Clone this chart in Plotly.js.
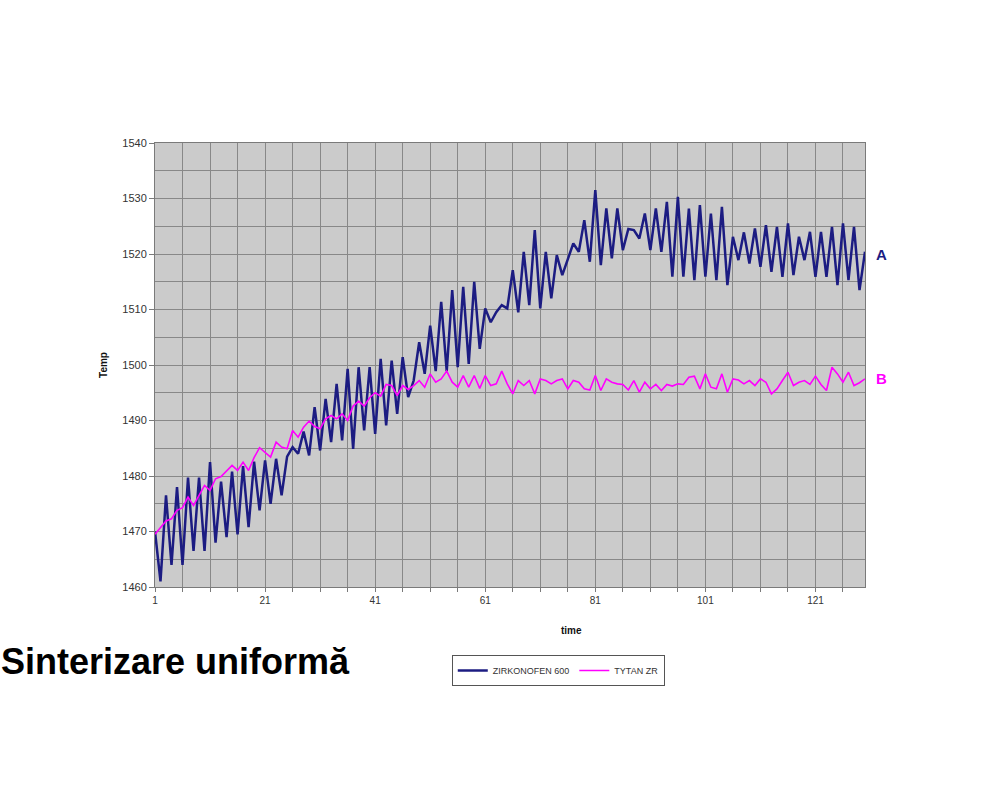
<!DOCTYPE html>
<html>
<head>
<meta charset="utf-8">
<script src="https://cdn.plot.ly/plotly-3.0.1.min.js"></script>
<style>html,body{margin:0;padding:0;background:#fff;}#chart{width:1000px;height:800px;}</style>
</head>
<body>
<div id="chart"></div>
<script>
const timeIdx = [1,2,3,4,5,6,7,8,9,10,11,12,13,14,15,16,17,18,19,20,21,22,23,24,25,26,27,28,29,30,31,32,33,34,35,36,37,38,39,40,41,42,43,44,45,46,47,48,49,50,51,52,53,54,55,56,57,58,59,60,61,62,63,64,65,66,67,68,69,70,71,72,73,74,75,76,77,78,79,80,81,82,83,84,85,86,87,88,89,90,91,92,93,94,95,96,97,98,99,100,101,102,103,104,105,106,107,108,109,110,111,112,113,114,115,116,117,118,119,120,121,122,123,124,125,126,127,128,129,130];

const zirkonofen = [1470,1461,1476.5,1464,1478,1464,1479.7,1466.5,1479.7,1466.5,
1482.5,1468,1479,1469,1480.8,1469.5,1481.8,1470.8,1482.6,1473.8,
1482.8,1475,1483.1,1476.5,1483.5,1485.2,1484,1488,1483.7,1492.4,
1484.6,1493.9,1486.1,1496.6,1486.4,1499.3,1484.9,1499.6,1488.2,1499.6,
1487.6,1501.1,1489.1,1500.8,1491.2,1501.4,1494.2,1497.2,1504.1,1498.4,
1507.1,1498.9,1511.4,1498.9,1513.5,1499.6,1514.1,1500.2,1515,1502.9,
1510.2,1507.7,1509.5,1510.8,1510.2,1517.1,1509.5,1520.4,1510.8,1524.3,
1510.2,1520.4,1512,1519.8,1516.2,1518.9,1521.9,1520.4,1526.1,1518.6,
1531.5,1518,1528.2,1519.2,1528.2,1520.7,1524.5,1524.3,1522.8,1527.3,
1520.7,1528.2,1520.4,1529.4,1515.9,1530.3,1515.9,1528.2,1515.3,1528.8,
1515.9,1527.3,1515.3,1528.5,1514.4,1523.1,1518.9,1523.9,1518.3,1524.6,
1517.7,1525.2,1516.8,1524.9,1515.9,1525.5,1516.2,1523.1,1518.9,1524,
1515.9,1524,1515.9,1524.9,1514.4,1525.5,1515.3,1524.9,1513.5,1520.4];

const tytan = [1469.5,1470.7,1471.9,1472.3,1473.8,1474.3,1476.2,1474.7,1476.5,1478.3,
1477.4,1479.5,1479.9,1481,1481.9,1481,1482.5,1481,1483.3,1485.1,
1484.2,1483.4,1486.1,1485.2,1484.9,1488.2,1487,1488.8,1489.9,1488.9,
1488.5,1490.3,1490.9,1490.3,1491.2,1490,1492.6,1493.5,1492.6,1494.1,
1495,1494.4,1496.5,1496.3,1494.5,1496.3,1495.6,1496.3,1497.2,1496,
1498.4,1496.9,1497.5,1498.9,1496.9,1496,1498.1,1496,1498.1,1495.8,
1498.1,1496.3,1496.6,1498.9,1496.6,1494.8,1497.2,1496.3,1497.2,1494.8,
1497.5,1497.2,1496.6,1497.2,1497.5,1495.7,1497.2,1496.9,1495.7,1495.5,
1498.1,1495.4,1497.5,1496.9,1496.6,1496.5,1495.5,1497.2,1495.1,1496.9,
1495.7,1496.5,1495.4,1496.5,1496.2,1496.6,1496.5,1497.8,1498,1495.7,
1498.4,1496,1495.7,1498.4,1495.1,1497.5,1497.3,1496.6,1497.2,1496.3,
1497.5,1496.9,1494.8,1495.7,1497.2,1498.7,1496.3,1496.9,1497.2,1496.5,
1498,1496.5,1495.4,1499.6,1498.4,1496.9,1498.7,1496.3,1496.8,1497.5];

const seriesNames = ["ZIRKONOFEN 600", "TYTAN ZR"];
const xTickVals = [1,21,41,61,81,101,121];
const xGridVals = [1,6,11,16,21,26,31,36,41,46,51,56,61,66,71,76,81,86,91,96,101,106,111,116,121,126];
const yTickVals = [1460,1470,1480,1490,1500,1510,1520,1530,1540];
const chartTitle = "Sinterizare uniformă";
const xTitle = "time";
const yTitle = "Temp";
const endLabels = ["A", "B"];
const endLabelY = [1520, 1497.5];

const FONT = "Liberation Sans, Arial, sans-serif";
const colA = "#1c1c82";
const colB = "#ff00ff";
const GRID = "#888888";

const traces = [
  {x: timeIdx, y: zirkonofen, type: "scatter", mode: "lines", name: seriesNames[0],
   line: {color: colA, width: 2.5}},
  {x: timeIdx, y: tytan, type: "scatter", mode: "lines", name: seriesNames[1],
   line: {color: colB, width: 1.6}}
];

const layout = {
  width: 1000, height: 800,
  margin: {l: 155, r: 135, t: 143, b: 213, pad: 0},
  paper_bgcolor: "#ffffff",
  plot_bgcolor: "#cbcbcb",
  font: {family: FONT, color: "#222"},
  showlegend: true,
  legend: {
    orientation: "h", x: 0.418, y: -0.153, xanchor: "left", yanchor: "top",
    bgcolor: "#ffffff", bordercolor: "#555", borderwidth: 1,
    font: {family: FONT, size: 9, color: "#333"},
    itemwidth: 30, tracegroupgap: 0
  },
  xaxis: {
    range: [1, 130], tickmode: "array", tickvals: xTickVals, ticktext: xTickVals.map(String),
    showgrid: false, zeroline: false,
    showline: true, mirror: true, linecolor: "#7a7a7a", linewidth: 1,
    ticks: "outside", ticklen: 4, tickcolor: "#7a7a7a",
    tickfont: {family: FONT, size: 10, color: "#333"},
    minor: {tickmode: "array", tickvals: xGridVals, showgrid: true, gridcolor: GRID, gridwidth: 1,
            ticks: "outside", ticklen: 4, tickcolor: "#7a7a7a"},
    fixedrange: true
  },
  yaxis: {
    range: [1460, 1540], tickmode: "array", tickvals: yTickVals, ticktext: yTickVals.map(String),
    showgrid: true, gridcolor: GRID, gridwidth: 1, zeroline: false,
    showline: true, mirror: true, linecolor: "#7a7a7a", linewidth: 1,
    ticks: "outside", ticklen: 5, tickcolor: "#7a7a7a",
    tickfont: {family: FONT, size: 11, color: "#333"},
    minor: {dtick: 5, tick0: 1460, showgrid: true, gridcolor: GRID, gridwidth: 1},
    title: {text: yTitle, font: {family: FONT, size: 10, color: "#111", weight: "bold"}, standoff: 12},
    fixedrange: true
  },
  annotations: [
    {text: "<b>" + chartTitle + "</b>", xref: "paper", yref: "paper",
     x: -0.22, y: -0.168, xanchor: "left", yanchor: "middle", showarrow: false,
     font: {family: FONT, size: 36, color: "#000"}},
    {text: "<b>" + xTitle + "</b>", xref: "paper", yref: "paper",
     x: 0.587, y: -0.097, xanchor: "center", yanchor: "middle", showarrow: false,
     font: {family: FONT, size: 10, color: "#111"}},
    {text: "<b>" + endLabels[0] + "</b>", xref: "paper", yref: "y",
     x: 1.013, y: endLabelY[0], xanchor: "left", yanchor: "middle", showarrow: false,
     font: {family: FONT, size: 15, color: colA}},
    {text: "<b>" + endLabels[1] + "</b>", xref: "paper", yref: "y",
     x: 1.013, y: endLabelY[1], xanchor: "left", yanchor: "middle", showarrow: false,
     font: {family: FONT, size: 15, color: colB}}
  ]
};

Plotly.newPlot("chart", traces, layout, {displayModeBar: false, staticPlot: true});
</script>
</body>
</html>
